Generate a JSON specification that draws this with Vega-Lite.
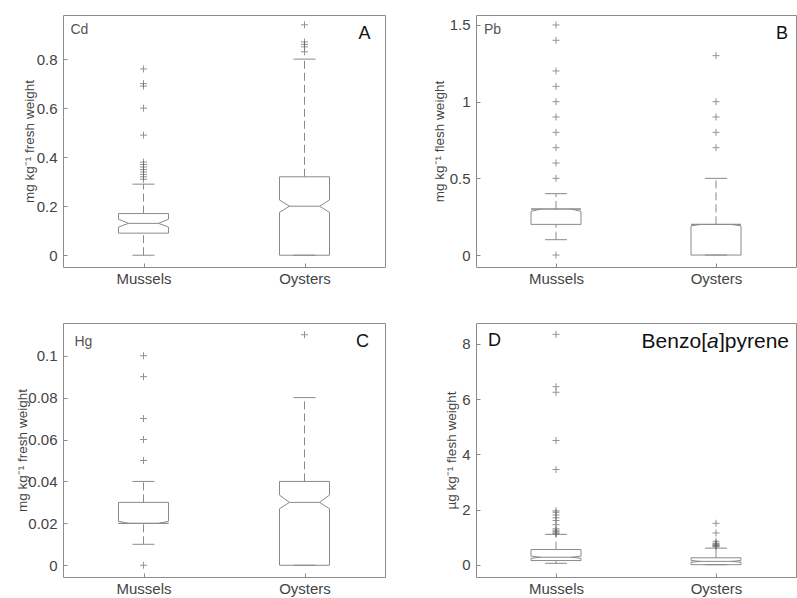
{
  "$schema": "https://vega.github.io/schema/vega-lite/v6.json",
  "padding": {"left": 15, "top": 14, "right": 0, "bottom": 0},
  "background": "white",
  "config": {
    "font": "Liberation Sans",
    "view": {"stroke": "#8c8c8c", "strokeWidth": 1},
    "axis": {"grid": false, "domain": false, "tickColor": "#8c8c8c", "tickSize": -4, "labelColor": "#444444", "labelFontSize": 15, "titleColor": "#444444", "titleFontSize": 13.5, "titleFontWeight": "normal", "titlePadding": 6},
    "axisX": {"labelPadding": 8},
    "axisY": {"labelPadding": 10},
    "rule": {"color": "#8a8a8a", "strokeWidth": 1},
    "concat": {"spacing": 20}
  },
  "datasets": {
    "stats": [
      {"panel": "Cd", "cat": "Mussels", "lo": 0, "q1": 0.09, "med": 0.13, "q3": 0.17, "hi": 0.29, "nlo": 0.115, "nhi": 0.147},
      {"panel": "Cd", "cat": "Oysters", "lo": 0, "q1": 0, "med": 0.2, "q3": 0.32, "hi": 0.8, "nlo": 0.175, "nhi": 0.225},
      {"panel": "Pb", "cat": "Mussels", "lo": 0.1, "q1": 0.2, "med": 0.3, "q3": 0.3, "hi": 0.4, "nlo": 0.285, "nhi": 0.3},
      {"panel": "Pb", "cat": "Oysters", "lo": 0, "q1": 0, "med": 0.2, "q3": 0.2, "hi": 0.5, "nlo": 0.19, "nhi": 0.2},
      {"panel": "Hg", "cat": "Mussels", "lo": 0.01, "q1": 0.02, "med": 0.02, "q3": 0.03, "hi": 0.04, "nlo": 0.02, "nhi": 0.021},
      {"panel": "Hg", "cat": "Oysters", "lo": 0, "q1": 0, "med": 0.03, "q3": 0.04, "hi": 0.08, "nlo": 0.027, "nhi": 0.0335},
      {"panel": "BaP", "cat": "Mussels", "lo": 0.05, "q1": 0.15, "med": 0.27, "q3": 0.55, "hi": 1.1, "nlo": 0.23, "nhi": 0.31},
      {"panel": "BaP", "cat": "Oysters", "lo": 0, "q1": 0, "med": 0.12, "q3": 0.25, "hi": 0.6, "nlo": 0.09, "nhi": 0.15}
    ],
    "out": [
      {"panel": "Cd", "cat": "Mussels", "v": 0.76}, {"panel": "Cd", "cat": "Mussels", "v": 0.70}, {"panel": "Cd", "cat": "Mussels", "v": 0.69}, {"panel": "Cd", "cat": "Mussels", "v": 0.60}, {"panel": "Cd", "cat": "Mussels", "v": 0.49}, {"panel": "Cd", "cat": "Mussels", "v": 0.38}, {"panel": "Cd", "cat": "Mussels", "v": 0.37}, {"panel": "Cd", "cat": "Mussels", "v": 0.36}, {"panel": "Cd", "cat": "Mussels", "v": 0.35}, {"panel": "Cd", "cat": "Mussels", "v": 0.34}, {"panel": "Cd", "cat": "Mussels", "v": 0.33}, {"panel": "Cd", "cat": "Mussels", "v": 0.32}, {"panel": "Cd", "cat": "Mussels", "v": 0.31},
      {"panel": "Cd", "cat": "Oysters", "v": 0.94}, {"panel": "Cd", "cat": "Oysters", "v": 0.87}, {"panel": "Cd", "cat": "Oysters", "v": 0.86}, {"panel": "Cd", "cat": "Oysters", "v": 0.85}, {"panel": "Cd", "cat": "Oysters", "v": 0.83},
      {"panel": "Pb", "cat": "Mussels", "v": 0}, {"panel": "Pb", "cat": "Mussels", "v": 0.5}, {"panel": "Pb", "cat": "Mussels", "v": 0.6}, {"panel": "Pb", "cat": "Mussels", "v": 0.7}, {"panel": "Pb", "cat": "Mussels", "v": 0.8}, {"panel": "Pb", "cat": "Mussels", "v": 0.9}, {"panel": "Pb", "cat": "Mussels", "v": 1.0}, {"panel": "Pb", "cat": "Mussels", "v": 1.1}, {"panel": "Pb", "cat": "Mussels", "v": 1.2}, {"panel": "Pb", "cat": "Mussels", "v": 1.4}, {"panel": "Pb", "cat": "Mussels", "v": 1.5},
      {"panel": "Pb", "cat": "Oysters", "v": 0.7}, {"panel": "Pb", "cat": "Oysters", "v": 0.8}, {"panel": "Pb", "cat": "Oysters", "v": 0.9}, {"panel": "Pb", "cat": "Oysters", "v": 1.0}, {"panel": "Pb", "cat": "Oysters", "v": 1.3},
      {"panel": "Hg", "cat": "Mussels", "v": 0}, {"panel": "Hg", "cat": "Mussels", "v": 0.05}, {"panel": "Hg", "cat": "Mussels", "v": 0.06}, {"panel": "Hg", "cat": "Mussels", "v": 0.07}, {"panel": "Hg", "cat": "Mussels", "v": 0.09}, {"panel": "Hg", "cat": "Mussels", "v": 0.1},
      {"panel": "Hg", "cat": "Oysters", "v": 0.11},
      {"panel": "BaP", "cat": "Mussels", "v": 8.35}, {"panel": "BaP", "cat": "Mussels", "v": 6.45}, {"panel": "BaP", "cat": "Mussels", "v": 6.25}, {"panel": "BaP", "cat": "Mussels", "v": 4.5}, {"panel": "BaP", "cat": "Mussels", "v": 3.45}, {"panel": "BaP", "cat": "Mussels", "v": 1.95}, {"panel": "BaP", "cat": "Mussels", "v": 1.9}, {"panel": "BaP", "cat": "Mussels", "v": 1.8}, {"panel": "BaP", "cat": "Mussels", "v": 1.7}, {"panel": "BaP", "cat": "Mussels", "v": 1.6}, {"panel": "BaP", "cat": "Mussels", "v": 1.45}, {"panel": "BaP", "cat": "Mussels", "v": 1.3}, {"panel": "BaP", "cat": "Mussels", "v": 1.25}, {"panel": "BaP", "cat": "Mussels", "v": 1.2}, {"panel": "BaP", "cat": "Mussels", "v": 1.15}, {"panel": "BaP", "cat": "Mussels", "v": 1.12},
      {"panel": "BaP", "cat": "Oysters", "v": 1.5}, {"panel": "BaP", "cat": "Oysters", "v": 1.15}, {"panel": "BaP", "cat": "Oysters", "v": 0.85}, {"panel": "BaP", "cat": "Oysters", "v": 0.78}, {"panel": "BaP", "cat": "Oysters", "v": 0.75}, {"panel": "BaP", "cat": "Oysters", "v": 0.72}, {"panel": "BaP", "cat": "Oysters", "v": 0.7}, {"panel": "BaP", "cat": "Oysters", "v": 0.67}, {"panel": "BaP", "cat": "Oysters", "v": 0.65}
    ]
  },
  "columns": 2,
  "spacing": {"column": 45, "row": 35},
  "concat": [
    {
      "data": {"name": "stats"},
      "transform": [{"filter": "datum.panel === 'Cd'"}],
      "width": 322, "height": 252,
      "encoding": {"x": {"field": "cat", "type": "nominal", "scale": {"type": "point", "padding": 0.5, "domain": ["Mussels", "Oysters"]}, "axis": {"title": null, "labelAngle": 0}}},
      "layer": [
        {"mark": {"type": "rule", "strokeDash": [8, 4]}, "encoding": {"y": {"field": "lo", "type": "quantitative", "scale": {"domain": [-0.048, 0.98], "nice": false, "zero": false}, "axis": {"title": "mg kg⁻¹ fresh weight", "titlePadding": 0, "values": [0, 0.2, 0.4, 0.6, 0.8], "format": "~g"}}, "y2": {"field": "q1"}}},
        {"mark": {"type": "rule", "strokeDash": [8, 4]}, "encoding": {"y": {"field": "q3", "type": "quantitative"}, "y2": {"field": "hi"}}},
        {"mark": {"type": "rule", "xOffset": -11, "x2Offset": 11}, "encoding": {"x2": {"field": "cat"}, "y": {"field": "lo", "type": "quantitative"}}},
        {"mark": {"type": "rule", "xOffset": -11, "x2Offset": 11}, "encoding": {"x2": {"field": "cat"}, "y": {"field": "hi", "type": "quantitative"}}},
        {"mark": {"type": "rule", "xOffset": -25, "x2Offset": 25}, "encoding": {"x2": {"field": "cat"}, "y": {"field": "q1", "type": "quantitative"}}},
        {"mark": {"type": "rule", "xOffset": -25, "x2Offset": 25}, "encoding": {"x2": {"field": "cat"}, "y": {"field": "q3", "type": "quantitative"}}},
        {"mark": {"type": "rule", "xOffset": -15, "x2Offset": 15}, "encoding": {"x2": {"field": "cat"}, "y": {"field": "med", "type": "quantitative"}}},
        {"mark": {"type": "rule", "xOffset": -25}, "encoding": {"y": {"field": "q1", "type": "quantitative"}, "y2": {"field": "nlo"}}},
        {"mark": {"type": "rule", "xOffset": -25}, "encoding": {"y": {"field": "nhi", "type": "quantitative"}, "y2": {"field": "q3"}}},
        {"mark": {"type": "rule", "xOffset": 25}, "encoding": {"y": {"field": "q1", "type": "quantitative"}, "y2": {"field": "nlo"}}},
        {"mark": {"type": "rule", "xOffset": 25}, "encoding": {"y": {"field": "nhi", "type": "quantitative"}, "y2": {"field": "q3"}}},
        {"mark": {"type": "rule", "xOffset": -25, "x2Offset": -15}, "encoding": {"x2": {"field": "cat"}, "y": {"field": "nlo", "type": "quantitative"}, "y2": {"field": "med"}}},
        {"mark": {"type": "rule", "xOffset": -25, "x2Offset": -15}, "encoding": {"x2": {"field": "cat"}, "y": {"field": "nhi", "type": "quantitative"}, "y2": {"field": "med"}}},
        {"mark": {"type": "rule", "xOffset": 25, "x2Offset": 15}, "encoding": {"x2": {"field": "cat"}, "y": {"field": "nlo", "type": "quantitative"}, "y2": {"field": "med"}}},
        {"mark": {"type": "rule", "xOffset": 25, "x2Offset": 15}, "encoding": {"x2": {"field": "cat"}, "y": {"field": "nhi", "type": "quantitative"}, "y2": {"field": "med"}}},
        {"data": {"name": "out"}, "transform": [{"filter": "datum.panel === 'Cd'"}], "mark": {"type": "point", "shape": "M-1,0L1,0M0,-1L0,1", "size": 49, "filled": false, "stroke": "#666666", "strokeWidth": 1}, "encoding": {"y": {"field": "v", "type": "quantitative"}}},
        {"data": {"values": [{"t": "Cd"}]}, "mark": {"type": "text", "align": "left", "baseline": "top", "dx": -73, "dy": 8, "fontSize": 14, "color": "#555555"}, "encoding": {"x": {"datum": "Mussels"}, "y": {"datum": 0.98}, "text": {"field": "t"}}},
        {"data": {"values": [{"t": "A"}]}, "mark": {"type": "text", "align": "center", "baseline": "top", "dx": 60, "dy": 10, "fontSize": 18, "color": "#111111"}, "encoding": {"x": {"datum": "Oysters"}, "y": {"datum": 0.98}, "text": {"field": "t"}}}
      ]
    },
    {
      "data": {"name": "stats"},
      "transform": [{"filter": "datum.panel === 'Pb'"}],
      "width": 320, "height": 252,
      "encoding": {"x": {"field": "cat", "type": "nominal", "scale": {"type": "point", "padding": 0.5, "domain": ["Mussels", "Oysters"]}, "axis": {"title": null, "labelAngle": 0}}},
      "layer": [
        {"mark": {"type": "rule", "strokeDash": [8, 4]}, "encoding": {"y": {"field": "lo", "type": "quantitative", "scale": {"domain": [-0.078, 1.565], "nice": false, "zero": false}, "axis": {"title": "mg kg⁻¹ flesh weight", "titlePadding": 3, "values": [0, 0.5, 1, 1.5], "format": "~g"}}, "y2": {"field": "q1"}}},
        {"mark": {"type": "rule", "strokeDash": [8, 4]}, "encoding": {"y": {"field": "q3", "type": "quantitative"}, "y2": {"field": "hi"}}},
        {"mark": {"type": "rule", "xOffset": -11, "x2Offset": 11}, "encoding": {"x2": {"field": "cat"}, "y": {"field": "lo", "type": "quantitative"}}},
        {"mark": {"type": "rule", "xOffset": -11, "x2Offset": 11}, "encoding": {"x2": {"field": "cat"}, "y": {"field": "hi", "type": "quantitative"}}},
        {"mark": {"type": "rule", "xOffset": -25, "x2Offset": 25}, "encoding": {"x2": {"field": "cat"}, "y": {"field": "q1", "type": "quantitative"}}},
        {"mark": {"type": "rule", "xOffset": -25, "x2Offset": 25}, "encoding": {"x2": {"field": "cat"}, "y": {"field": "q3", "type": "quantitative"}}},
        {"mark": {"type": "rule", "xOffset": -15, "x2Offset": 15}, "encoding": {"x2": {"field": "cat"}, "y": {"field": "med", "type": "quantitative"}}},
        {"mark": {"type": "rule", "xOffset": -25}, "encoding": {"y": {"field": "q1", "type": "quantitative"}, "y2": {"field": "nlo"}}},
        {"mark": {"type": "rule", "xOffset": -25}, "encoding": {"y": {"field": "nhi", "type": "quantitative"}, "y2": {"field": "q3"}}},
        {"mark": {"type": "rule", "xOffset": 25}, "encoding": {"y": {"field": "q1", "type": "quantitative"}, "y2": {"field": "nlo"}}},
        {"mark": {"type": "rule", "xOffset": 25}, "encoding": {"y": {"field": "nhi", "type": "quantitative"}, "y2": {"field": "q3"}}},
        {"mark": {"type": "rule", "xOffset": -25, "x2Offset": -15}, "encoding": {"x2": {"field": "cat"}, "y": {"field": "nlo", "type": "quantitative"}, "y2": {"field": "med"}}},
        {"mark": {"type": "rule", "xOffset": -25, "x2Offset": -15}, "encoding": {"x2": {"field": "cat"}, "y": {"field": "nhi", "type": "quantitative"}, "y2": {"field": "med"}}},
        {"mark": {"type": "rule", "xOffset": 25, "x2Offset": 15}, "encoding": {"x2": {"field": "cat"}, "y": {"field": "nlo", "type": "quantitative"}, "y2": {"field": "med"}}},
        {"mark": {"type": "rule", "xOffset": 25, "x2Offset": 15}, "encoding": {"x2": {"field": "cat"}, "y": {"field": "nhi", "type": "quantitative"}, "y2": {"field": "med"}}},
        {"data": {"name": "out"}, "transform": [{"filter": "datum.panel === 'Pb'"}], "mark": {"type": "point", "shape": "M-1,0L1,0M0,-1L0,1", "size": 49, "filled": false, "stroke": "#666666", "strokeWidth": 1}, "encoding": {"y": {"field": "v", "type": "quantitative"}}},
        {"data": {"values": [{"t": "Pb"}]}, "mark": {"type": "text", "align": "left", "baseline": "top", "dx": -72, "dy": 8, "fontSize": 14, "color": "#555555"}, "encoding": {"x": {"datum": "Mussels"}, "y": {"datum": 1.565}, "text": {"field": "t"}}},
        {"data": {"values": [{"t": "B"}]}, "mark": {"type": "text", "align": "center", "baseline": "top", "dx": 66, "dy": 10, "fontSize": 18, "color": "#111111"}, "encoding": {"x": {"datum": "Oysters"}, "y": {"datum": 1.565}, "text": {"field": "t"}}}
      ]
    },
    {
      "data": {"name": "stats"},
      "transform": [{"filter": "datum.panel === 'Hg'"}],
      "width": 322, "height": 254,
      "encoding": {"x": {"field": "cat", "type": "nominal", "scale": {"type": "point", "padding": 0.5, "domain": ["Mussels", "Oysters"]}, "axis": {"title": null, "labelAngle": 0}}},
      "layer": [
        {"mark": {"type": "rule", "strokeDash": [8, 4]}, "encoding": {"y": {"field": "lo", "type": "quantitative", "scale": {"domain": [-0.0056, 0.1156], "nice": false, "zero": false}, "axis": {"title": "mg kg⁻¹ fresh weight", "titlePadding": -2, "values": [0, 0.02, 0.04, 0.06, 0.08, 0.1], "format": "~g"}}, "y2": {"field": "q1"}}},
        {"mark": {"type": "rule", "strokeDash": [8, 4]}, "encoding": {"y": {"field": "q3", "type": "quantitative"}, "y2": {"field": "hi"}}},
        {"mark": {"type": "rule", "xOffset": -11, "x2Offset": 11}, "encoding": {"x2": {"field": "cat"}, "y": {"field": "lo", "type": "quantitative"}}},
        {"mark": {"type": "rule", "xOffset": -11, "x2Offset": 11}, "encoding": {"x2": {"field": "cat"}, "y": {"field": "hi", "type": "quantitative"}}},
        {"mark": {"type": "rule", "xOffset": -25, "x2Offset": 25}, "encoding": {"x2": {"field": "cat"}, "y": {"field": "q1", "type": "quantitative"}}},
        {"mark": {"type": "rule", "xOffset": -25, "x2Offset": 25}, "encoding": {"x2": {"field": "cat"}, "y": {"field": "q3", "type": "quantitative"}}},
        {"mark": {"type": "rule", "xOffset": -15, "x2Offset": 15}, "encoding": {"x2": {"field": "cat"}, "y": {"field": "med", "type": "quantitative"}}},
        {"mark": {"type": "rule", "xOffset": -25}, "encoding": {"y": {"field": "q1", "type": "quantitative"}, "y2": {"field": "nlo"}}},
        {"mark": {"type": "rule", "xOffset": -25}, "encoding": {"y": {"field": "nhi", "type": "quantitative"}, "y2": {"field": "q3"}}},
        {"mark": {"type": "rule", "xOffset": 25}, "encoding": {"y": {"field": "q1", "type": "quantitative"}, "y2": {"field": "nlo"}}},
        {"mark": {"type": "rule", "xOffset": 25}, "encoding": {"y": {"field": "nhi", "type": "quantitative"}, "y2": {"field": "q3"}}},
        {"mark": {"type": "rule", "xOffset": -25, "x2Offset": -15}, "encoding": {"x2": {"field": "cat"}, "y": {"field": "nlo", "type": "quantitative"}, "y2": {"field": "med"}}},
        {"mark": {"type": "rule", "xOffset": -25, "x2Offset": -15}, "encoding": {"x2": {"field": "cat"}, "y": {"field": "nhi", "type": "quantitative"}, "y2": {"field": "med"}}},
        {"mark": {"type": "rule", "xOffset": 25, "x2Offset": 15}, "encoding": {"x2": {"field": "cat"}, "y": {"field": "nlo", "type": "quantitative"}, "y2": {"field": "med"}}},
        {"mark": {"type": "rule", "xOffset": 25, "x2Offset": 15}, "encoding": {"x2": {"field": "cat"}, "y": {"field": "nhi", "type": "quantitative"}, "y2": {"field": "med"}}},
        {"data": {"name": "out"}, "transform": [{"filter": "datum.panel === 'Hg'"}], "mark": {"type": "point", "shape": "M-1,0L1,0M0,-1L0,1", "size": 49, "filled": false, "stroke": "#666666", "strokeWidth": 1}, "encoding": {"y": {"field": "v", "type": "quantitative"}}},
        {"data": {"values": [{"t": "Hg"}]}, "mark": {"type": "text", "align": "left", "baseline": "top", "dx": -69, "dy": 12, "fontSize": 14, "color": "#555555"}, "encoding": {"x": {"datum": "Mussels"}, "y": {"datum": 0.1156}, "text": {"field": "t"}}},
        {"data": {"values": [{"t": "C"}]}, "mark": {"type": "text", "align": "center", "baseline": "top", "dx": 58, "dy": 10, "fontSize": 18, "color": "#111111"}, "encoding": {"x": {"datum": "Oysters"}, "y": {"datum": 0.1156}, "text": {"field": "t"}}}
      ]
    },
    {
      "data": {"name": "stats"},
      "transform": [{"filter": "datum.panel === 'BaP'"}],
      "width": 320, "height": 254,
      "encoding": {"x": {"field": "cat", "type": "nominal", "scale": {"type": "point", "padding": 0.5, "domain": ["Mussels", "Oysters"]}, "axis": {"title": null, "labelAngle": 0}}},
      "layer": [
        {"mark": {"type": "rule", "strokeDash": [8, 4]}, "encoding": {"y": {"field": "lo", "type": "quantitative", "scale": {"domain": [-0.446, 8.76], "nice": false, "zero": false}, "axis": {"title": "µg kg⁻¹ flesh weight", "titlePadding": 3, "values": [0, 2, 4, 6, 8], "format": "~g"}}, "y2": {"field": "q1"}}},
        {"mark": {"type": "rule", "strokeDash": [8, 4]}, "encoding": {"y": {"field": "q3", "type": "quantitative"}, "y2": {"field": "hi"}}},
        {"mark": {"type": "rule", "xOffset": -11, "x2Offset": 11}, "encoding": {"x2": {"field": "cat"}, "y": {"field": "lo", "type": "quantitative"}}},
        {"mark": {"type": "rule", "xOffset": -11, "x2Offset": 11}, "encoding": {"x2": {"field": "cat"}, "y": {"field": "hi", "type": "quantitative"}}},
        {"mark": {"type": "rule", "xOffset": -25, "x2Offset": 25}, "encoding": {"x2": {"field": "cat"}, "y": {"field": "q1", "type": "quantitative"}}},
        {"mark": {"type": "rule", "xOffset": -25, "x2Offset": 25}, "encoding": {"x2": {"field": "cat"}, "y": {"field": "q3", "type": "quantitative"}}},
        {"mark": {"type": "rule", "xOffset": -15, "x2Offset": 15}, "encoding": {"x2": {"field": "cat"}, "y": {"field": "med", "type": "quantitative"}}},
        {"mark": {"type": "rule", "xOffset": -25}, "encoding": {"y": {"field": "q1", "type": "quantitative"}, "y2": {"field": "nlo"}}},
        {"mark": {"type": "rule", "xOffset": -25}, "encoding": {"y": {"field": "nhi", "type": "quantitative"}, "y2": {"field": "q3"}}},
        {"mark": {"type": "rule", "xOffset": 25}, "encoding": {"y": {"field": "q1", "type": "quantitative"}, "y2": {"field": "nlo"}}},
        {"mark": {"type": "rule", "xOffset": 25}, "encoding": {"y": {"field": "nhi", "type": "quantitative"}, "y2": {"field": "q3"}}},
        {"mark": {"type": "rule", "xOffset": -25, "x2Offset": -15}, "encoding": {"x2": {"field": "cat"}, "y": {"field": "nlo", "type": "quantitative"}, "y2": {"field": "med"}}},
        {"mark": {"type": "rule", "xOffset": -25, "x2Offset": -15}, "encoding": {"x2": {"field": "cat"}, "y": {"field": "nhi", "type": "quantitative"}, "y2": {"field": "med"}}},
        {"mark": {"type": "rule", "xOffset": 25, "x2Offset": 15}, "encoding": {"x2": {"field": "cat"}, "y": {"field": "nlo", "type": "quantitative"}, "y2": {"field": "med"}}},
        {"mark": {"type": "rule", "xOffset": 25, "x2Offset": 15}, "encoding": {"x2": {"field": "cat"}, "y": {"field": "nhi", "type": "quantitative"}, "y2": {"field": "med"}}},
        {"data": {"name": "out"}, "transform": [{"filter": "datum.panel === 'BaP'"}], "mark": {"type": "point", "shape": "M-1,0L1,0M0,-1L0,1", "size": 49, "filled": false, "stroke": "#666666", "strokeWidth": 1}, "encoding": {"y": {"field": "v", "type": "quantitative"}}},
        {"data": {"values": [{"t": "D"}]}, "mark": {"type": "text", "align": "left", "baseline": "top", "dx": -68, "dy": 9, "fontSize": 18, "color": "#111111"}, "encoding": {"x": {"datum": "Mussels"}, "y": {"datum": 8.76}, "text": {"field": "t"}}},
        {"data": {"values": [{"t": "Benzo["}]}, "mark": {"type": "text", "align": "right", "baseline": "top", "dx": -9, "dy": 8, "fontSize": 21, "color": "#111111"}, "encoding": {"x": {"datum": "Oysters"}, "y": {"datum": 8.76}, "text": {"field": "t"}}},
        {"data": {"values": [{"t": "a"}]}, "mark": {"type": "text", "align": "left", "baseline": "top", "dx": -9, "dy": 8, "fontSize": 21, "fontStyle": "italic", "color": "#111111"}, "encoding": {"x": {"datum": "Oysters"}, "y": {"datum": 8.76}, "text": {"field": "t"}}},
        {"data": {"values": [{"t": "]pyrene"}]}, "mark": {"type": "text", "align": "left", "baseline": "top", "dx": 3, "dy": 8, "fontSize": 21, "color": "#111111"}, "encoding": {"x": {"datum": "Oysters"}, "y": {"datum": 8.76}, "text": {"field": "t"}}}
      ]
    }
  ]
}
